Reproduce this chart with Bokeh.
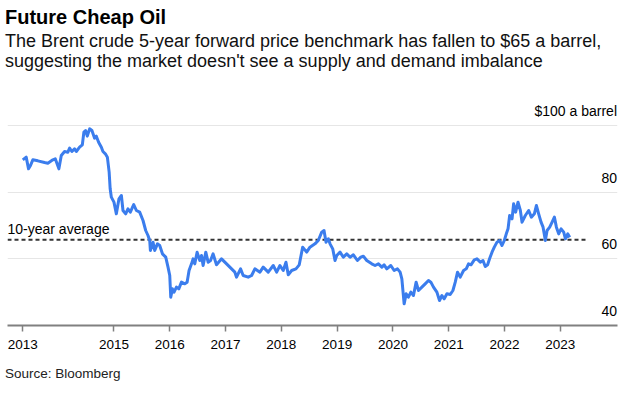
from bokeh.plotting import figure
from bokeh.models import ColumnDataSource, FixedTicker, Div, Range1d
from bokeh.layouts import column
from bokeh.embed import file_html
from bokeh.resources import INLINE
from bokeh.core.properties import value

# ---------------- data ----------------
title_text = "Future Cheap Oil"
subtitle_lines = [
    "The Brent crude 5-year forward price benchmark has fallen to $65 a barrel,",
    "suggesting the market doesn't see a supply and demand imbalance",
]
source_text = "Source: Bloomberg"
avg_label = "10-year average"

# time in decimal years, Brent 5-year forward price ($/bbl)
t_years = [
    2013.366, 2013.427, 2013.469, 2013.504, 2013.546, 2013.636, 2013.756, 2013.815,
    2013.905, 2013.948, 2014.013, 2014.056, 2014.115, 2014.174, 2014.205, 2014.246,
    2014.294, 2014.325, 2014.384, 2014.433, 2014.461, 2014.492, 2014.522, 2014.564,
    2014.605, 2014.653, 2014.684, 2014.725, 2014.774, 2014.803, 2014.846, 2014.882,
    2014.914, 2014.932, 2014.953, 2015.000, 2015.043, 2015.090, 2015.133, 2015.162,
    2015.210, 2015.251, 2015.294, 2015.354, 2015.402, 2015.461, 2015.521, 2015.569,
    2015.610, 2015.641, 2015.653, 2015.700, 2015.731, 2015.779, 2015.820, 2015.869,
    2015.928, 2015.969, 2016.000, 2016.018, 2016.048, 2016.077, 2016.120, 2016.162,
    2016.210, 2016.269, 2016.311, 2016.346, 2016.390, 2016.418, 2016.449, 2016.490,
    2016.539, 2016.569, 2016.598, 2016.646, 2016.688, 2016.731, 2016.777, 2016.838,
    2016.928, 2016.987, 2017.077, 2017.167, 2017.197, 2017.269, 2017.316, 2017.406,
    2017.467, 2017.526, 2017.616, 2017.675, 2017.765, 2017.855, 2017.916, 2017.975,
    2018.034, 2018.083, 2018.124, 2018.185, 2018.262, 2018.321, 2018.382, 2018.454,
    2018.513, 2018.603, 2018.662, 2018.724, 2018.765, 2018.801, 2018.842, 2018.873,
    2018.921, 2018.962, 2018.993, 2019.052, 2019.111, 2019.172, 2019.232, 2019.291,
    2019.363, 2019.424, 2019.470, 2019.531, 2019.621, 2019.680, 2019.740, 2019.801,
    2019.842, 2019.890, 2019.962, 2020.022, 2020.081, 2020.129, 2020.160, 2020.201,
    2020.237, 2020.278, 2020.321, 2020.368, 2020.416, 2020.458, 2020.519, 2020.578,
    2020.637, 2020.680, 2020.727, 2020.788, 2020.835, 2020.878, 2020.919, 2020.968,
    2021.027, 2021.075, 2021.117, 2021.158, 2021.206, 2021.266, 2021.314, 2021.355,
    2021.399, 2021.458, 2021.506, 2021.566, 2021.614, 2021.655, 2021.697, 2021.732,
    2021.776, 2021.817, 2021.865, 2021.912, 2021.955, 2021.996, 2022.032, 2022.063,
    2022.092, 2022.135, 2022.163, 2022.199, 2022.242, 2022.284, 2022.314, 2022.373,
    2022.433, 2022.481, 2022.535, 2022.571, 2022.612, 2022.655, 2022.691, 2022.732,
    2022.763, 2022.810, 2022.853, 2022.894, 2022.930, 2022.971, 2023.014, 2023.061,
    2023.092, 2023.133, 2023.169,
]
price = [
    89.7, 90.5, 87.0, 88.0, 89.7, 89.4, 88.9, 88.7,
    89.7, 90.0, 87.0, 91.0, 92.2, 92.0, 93.2, 92.2,
    93.0, 92.2, 93.5, 94.2, 98.0, 98.5, 96.8, 99.0,
    98.5, 96.2, 96.8, 95.0, 93.5, 92.2, 91.5, 90.5,
    86.0, 81.0, 78.5, 77.0, 73.5, 78.0, 79.0, 74.5,
    73.5, 75.0, 74.0, 76.3, 74.5, 74.0, 71.5, 68.5,
    67.0, 65.5, 62.5, 65.0, 62.5, 64.5, 64.0, 61.5,
    60.5, 57.5, 55.0, 48.5, 51.0, 50.0, 51.5, 51.0,
    53.0, 52.5, 53.0, 56.5, 58.5, 60.0, 58.5, 62.0,
    59.5, 61.0, 58.0, 62.0, 59.0, 59.5, 61.5, 58.2,
    60.0, 59.0, 57.5, 56.0, 54.5, 57.0, 55.0, 54.5,
    55.0, 57.0, 56.0, 57.5, 56.0, 58.0, 56.0, 58.0,
    56.5, 59.0, 55.2, 56.5, 57.0, 58.2, 63.5, 62.0,
    63.5, 64.5, 65.5, 68.0, 68.5, 65.0, 66.0, 64.5,
    63.0, 59.5, 61.0, 62.0, 60.5, 61.5, 60.5, 61.2,
    59.5, 60.5, 60.8, 59.5, 58.5, 58.0, 58.5, 57.5,
    58.2, 57.0, 58.0, 56.5, 57.0, 56.0, 54.0, 46.5,
    49.5, 48.5, 50.0, 49.0, 53.0, 50.5, 51.5, 52.5,
    53.5, 53.0, 51.5, 50.0, 47.5, 49.0, 48.0, 49.5,
    49.3, 50.5, 53.0, 56.0, 54.5, 56.5, 57.0, 58.5,
    58.2, 59.7, 60.0, 59.0, 59.5, 57.7, 58.2, 60.0,
    62.0, 63.5, 65.0, 65.5, 64.0, 65.5, 67.5, 69.0,
    73.0, 72.0, 76.5, 74.0, 77.0, 74.5, 71.0, 73.0,
    74.5, 72.5, 73.5, 76.0, 73.5, 71.0, 69.5, 65.5,
    68.5, 69.5, 71.0, 72.5, 69.5, 67.5, 69.0, 68.0,
    66.0, 67.5, 66.5,
]

avg_10y = 65.7          # 10-year average, $/bbl
avg_end_year = 2023.49  # where the dashed average line stops

x_ticks = [2013.366, 2015, 2016, 2017, 2018, 2019, 2020, 2021, 2022, 2023]
x_tick_labels = ["2013", "2015", "2016", "2017", "2018", "2019", "2020", "2021", "2022", "2023"]
y_ticks = [40, 60, 80, 100]
y_tick_labels = ["40", "60", "80", "$100 a barrel"]

x_start, x_end = 2013.092, 2024.025
y_start, y_end = 40, 108.7

FONT = "Liberation Sans"
BLUE = "#3b7ded"

# ---------------- header ----------------
header = Div(
    text=(
        f'<div style="font-family:\'{FONT}\',Arial,sans-serif;color:#000;white-space:nowrap;'
        f'padding-top:5px;padding-left:5px;">'
        f'<div style="font-weight:bold;font-size:20px;line-height:24px;">{title_text}</div>'
        f'<div style="margin-top:1.5px;font-size:18px;line-height:20px;color:#111;">'
        f'{subtitle_lines[0]}<br>{subtitle_lines[1]}</div></div>'
    ),
    width=631, height=96, margin=(0, 0, 0, 0),
)

# ---------------- figure ----------------
p = figure(
    width=623, height=270,
    x_range=Range1d(x_start, x_end), y_range=Range1d(y_start, y_end),
    toolbar_location=None, output_backend="svg",
    y_axis_location=None,
    min_border_left=7, min_border_right=6, min_border_top=0, min_border_bottom=41,
)
p.outline_line_color = None
p.background_fill_color = "white"
p.border_fill_color = "white"

p.xgrid.visible = False
p.ygrid.ticker = FixedTicker(ticks=y_ticks)
p.ygrid.grid_line_color = "#e6e6e6"
p.ygrid.grid_line_width = 1

ax = p.xaxis[0]
ax.ticker = FixedTicker(ticks=x_ticks)
ax.major_label_overrides = {t: lab for t, lab in zip(x_ticks, x_tick_labels)}
ax.axis_line_color = "#808080"
ax.axis_line_width = 2
ax.major_tick_line_color = "#808080"
ax.major_tick_line_width = 1.5
ax.major_tick_in = 0
ax.major_tick_out = 6
ax.minor_tick_line_color = None
ax.major_label_standoff = 8
ax.major_label_text_font = FONT
ax.major_label_text_font_size = "13.5px"
ax.major_label_text_color = "#000"

# average dashed line
p.segment(x0=[x_start], y0=[avg_10y], x1=[avg_end_year], y1=[avg_10y],
          line_color="#333333", line_width=2, line_dash="4 3")
p.text(x=[x_start], y=[avg_10y], text=[avg_label], x_offset=0, y_offset=-10.5,
       text_font=value(FONT), text_font_size="14px", text_color="#000",
       text_align="left", text_baseline="alphabetic")

# price line
src = ColumnDataSource(dict(t=t_years, v=price))
p.line("t", "v", source=src, line_color=BLUE, line_width=3, line_join="round")

# y labels inside the plot, right-aligned
p.text(x=[x_end] * len(y_ticks), y=y_ticks, text=y_tick_labels, x_offset=-0.5, y_offset=-14.5,
       text_font=value(FONT), text_font_size="14px", text_color="#000",
       text_align="right", text_baseline="alphabetic")

# ---------------- source ----------------
footer = Div(
    text=(f'<div style="font-family:\'{FONT}\',Arial,sans-serif;font-size:13.5px;'
          f'line-height:16px;color:#222;white-space:nowrap;padding-left:5px;">{source_text}</div>'),
    width=631, height=20, margin=(0, 0, 0, 0),
)

layout = column(header, p, footer, spacing=0)
open("out.html", "w").write(file_html(layout, INLINE))
